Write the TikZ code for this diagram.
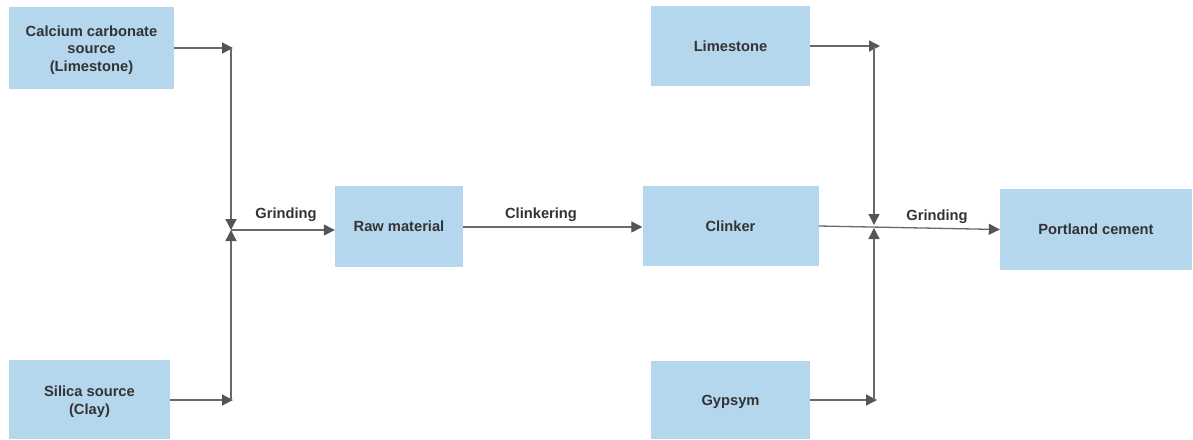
\documentclass[tikz,border=0pt]{standalone}
\usepackage{fontspec}
\setmainfont{Liberation Sans}
\usetikzlibrary{arrows.meta}
\definecolor{boxfill}{RGB}{180,215,238}
\definecolor{txt}{RGB}{51,51,51}
\definecolor{ln}{RGB}{105,105,105}
\definecolor{tip}{RGB}{85,85,85}
\newcommand{\lowtxt}[1]{\raisebox{-2pt}[\height][\depth]{#1}}
\begin{document}
\begin{tikzpicture}[x=1pt,y=-1pt,
  box/.style={fill=boxfill,draw=none,inner sep=0pt,align=center,
    font=\bfseries\fontsize{14.7}{17.5}\selectfont,text=txt},
  lbl/.style={inner sep=0pt,font=\bfseries\fontsize{14.7}{17.5}\selectfont,text=txt},
  arr/.style={draw=ln,line width=1.3pt,-{Triangle[length=11pt,width=11pt,color=tip]}}]
\useasboundingbox (0,0) rectangle (1193,439);
% boxes
\node[box,minimum width=165pt,minimum height=82pt] (calc) at (91.5,48) {\lowtxt{Calcium carbonate}\\\lowtxt{source}\\\lowtxt{(Limestone)}};
\node[box,minimum width=161pt,minimum height=79pt] (silica) at (89.5,399.5) {\lowtxt{Silica source}\\\lowtxt{(Clay)}};
\node[box,minimum width=128pt,minimum height=81pt] (raw) at (399,226.5) {Raw material};
\node[box,minimum width=176pt,minimum height=80pt] (clinker) at (730.5,226) {Clinker};
\node[box,minimum width=159pt,minimum height=80pt] (lime) at (730.5,46) {Limestone};
\node[box,minimum width=159pt,minimum height=78pt] (gyp) at (730.5,400) {\lowtxt{Gypsym}};
\node[box,minimum width=192pt,minimum height=81pt] (port) at (1096,229.5) {Portland cement};
% junction points
\coordinate (c1) at (233,48);
\coordinate (s1) at (233,400);
\coordinate (j1) at (231,230);
\coordinate (l1) at (880,46);
\coordinate (g1) at (877,400);
\coordinate (j2a) at (874,225);
\coordinate (j2b) at (874,228);
% connectors
\draw[arr] (calc.east |- c1) -- (c1);
\draw[arr] (c1 -| j1) -- (j1);
\draw[arr] (silica.east |- s1) -- (s1);
\draw[arr] (s1 -| j1) -- (j1);
\draw[arr] (j1) -- (j1 -| raw.west);
\draw[arr] (raw.east |- 0,227) -- (clinker.west |- 0,227);
\draw[arr] (lime.east) -- (l1);
\draw[arr] (l1 -| j2a) -- (j2a);
\draw[arr] (gyp.east) -- (g1);
\draw[arr] (g1 -| j2b) -- (j2b);
\draw[arr] (clinker.east) -- (port.west);
% labels
\node[lbl] (lg1) at (286,215) {Grinding};
\node[lbl] (lck) at (541,214.5) {Clinkering};
\node[lbl] (lg2) at (937,216.5) {Grinding};
\end{tikzpicture}
\end{document}
